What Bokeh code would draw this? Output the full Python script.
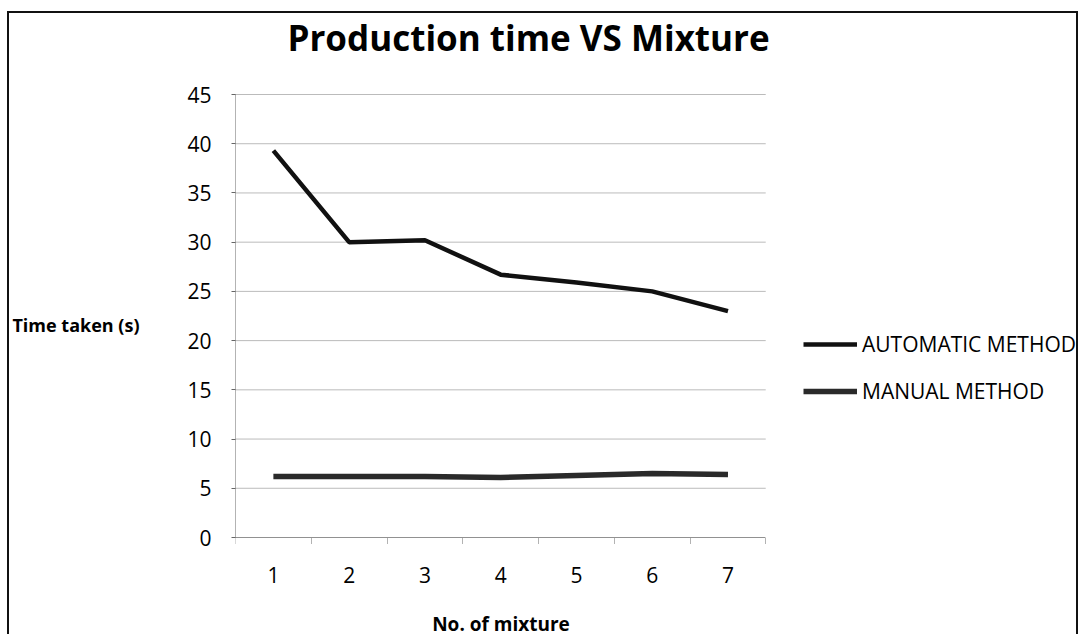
from bokeh.plotting import figure
from bokeh.models import FixedTicker, Legend, LegendItem, Label
from bokeh.embed import file_html
from bokeh.resources import INLINE

# ---- data ----
mixtures = [1, 2, 3, 4, 5, 6, 7]
automatic = [39.3, 30.0, 30.2, 26.7, 25.9, 25.0, 23.0]
manual = [6.2, 6.2, 6.2, 6.1, 6.3, 6.5, 6.4]
y_ticks = [0, 5, 10, 15, 20, 25, 30, 35, 40, 45]
series_names = ["AUTOMATIC METHOD", "MANUAL METHOD"]
title_text = "Production time VS Mixture"
x_title = "No. of mixture"
y_title = "Time taken (s)"

FONT = "Open Sans"

# layout (pixels, canvas coordinates)
W, H = 1071, 623
LEFT = 225
PLOT_W, PLOT_H = 531, 443         # plotted category area
PLOT_TOP = 81                     # from canvas top to the 45 gridline
PLOT_BOTTOM_GAP = H - PLOT_TOP - PLOT_H   # from the 0 line to canvas bottom
FRAME_W = W - LEFT

x0 = mixtures[0] - 0.5
x1 = mixtures[-1] + 0.5
x_end = x0 + (x1 - x0) * FRAME_W / PLOT_W
y_lo, y_hi = y_ticks[0], y_ticks[-1]
per_px = (y_hi - y_lo) / PLOT_H
y_start = y_lo - PLOT_BOTTOM_GAP * per_px
y_end = y_hi + PLOT_TOP * per_px

p = figure(
    width=W, height=H,
    x_range=(x0, x_end),
    y_range=(y_start, y_end),
    output_backend="svg", toolbar_location=None,
    min_border_left=LEFT, min_border_right=0,
    min_border_top=0, min_border_bottom=0,
    title=None,
)
p.styles = {
    "margin-left": "7px",
    "margin-top": "11px",
    "border-left": "2px solid #111",
    "border-top": "2px solid #111",
    "border-right": "2px solid #111",
}
p.outline_line_color = None
p.background_fill_color = "white"
p.border_fill_color = "white"

# grid lines limited to the category area
p.xgrid.visible = False
p.ygrid.visible = False
p.segment(x0=[x0] * len(y_ticks), x1=[x1] * len(y_ticks), y0=y_ticks, y1=y_ticks,
          line_color="#777777", line_dash="1 1", line_width=1)

# lines
r_auto = p.line(mixtures, automatic, line_color="#111111", line_width=4.5)
r_man = p.line(mixtures, manual, line_color="#2a2a2a", line_width=5.5)

# x axis, drawn at y = 0
bounds = [m - 0.5 for m in mixtures] + [mixtures[-1] + 0.5]
xa = p.xaxis[0]
xa.fixed_location = y_lo
xa.bounds = (x0, x1)
xa.ticker = FixedTicker(ticks=mixtures, minor_ticks=bounds)
xa.axis_line_color = "#666666"
xa.axis_line_dash = "1 1"
xa.major_tick_line_color = None
xa.major_tick_out = 0
xa.major_tick_in = 0
xa.minor_tick_line_color = "#666666"
xa.minor_tick_line_dash = "1 1"
xa.minor_tick_out = 6
xa.minor_tick_in = 0
xa.major_label_standoff = 23
xa.major_label_text_font = FONT
xa.major_label_text_font_size = "21px"
xa.major_label_text_line_height = 1.0
xa.major_label_text_color = "black"

# y axis
ya = p.yaxis[0]
ya.bounds = (y_lo, y_hi)
ya.ticker = FixedTicker(ticks=y_ticks)
ya.axis_line_color = "#666666"
ya.axis_line_dash = "1 1"
ya.major_tick_line_color = "#666666"
ya.major_tick_out = 4
ya.major_tick_in = 0
ya.minor_tick_line_color = None
ya.major_label_standoff = 20
ya.major_label_text_font = FONT
ya.major_label_text_font_size = "21px"
ya.major_label_text_color = "black"
ya.axis_label = y_title
ya.axis_label_orientation = "horizontal"
ya.axis_label_text_font = FONT
ya.axis_label_text_font_size = "18px"
ya.axis_label_text_font_style = "bold"
ya.axis_label_text_color = "black"
ya.axis_label_standoff = 45

# chart title and x title (screen offsets from the frame's bottom-left)
p.add_layout(Label(
    x=52, y=H - 24, x_units="screen", y_units="screen",
    text=title_text, text_align="left", text_baseline="middle",
    text_font=FONT, text_font_size="35px", text_font_style="bold",
    text_color="black",
))
p.add_layout(Label(
    x=PLOT_W / 2, y=13, x_units="screen", y_units="screen",
    text=x_title, text_align="center", text_baseline="middle",
    text_font=FONT, text_font_size="19px", text_font_style="bold",
    text_color="black",
))

# legend, to the right of the category area
legend = Legend(
    items=[
        LegendItem(label=series_names[0], renderers=[r_auto]),
        LegendItem(label=series_names[1], renderers=[r_man]),
    ],
    location=(PLOT_W + 37, 230),
    orientation="vertical",
    glyph_width=54, glyph_height=30, label_height=30,
    spacing=17, label_standoff=5, padding=0, margin=0,
    border_line_color=None, background_fill_alpha=0,
    label_text_font=FONT, label_text_font_size="21px",
    label_text_color="black",
)
p.add_layout(legend)

open("out.html", "w").write(file_html(p, INLINE))
